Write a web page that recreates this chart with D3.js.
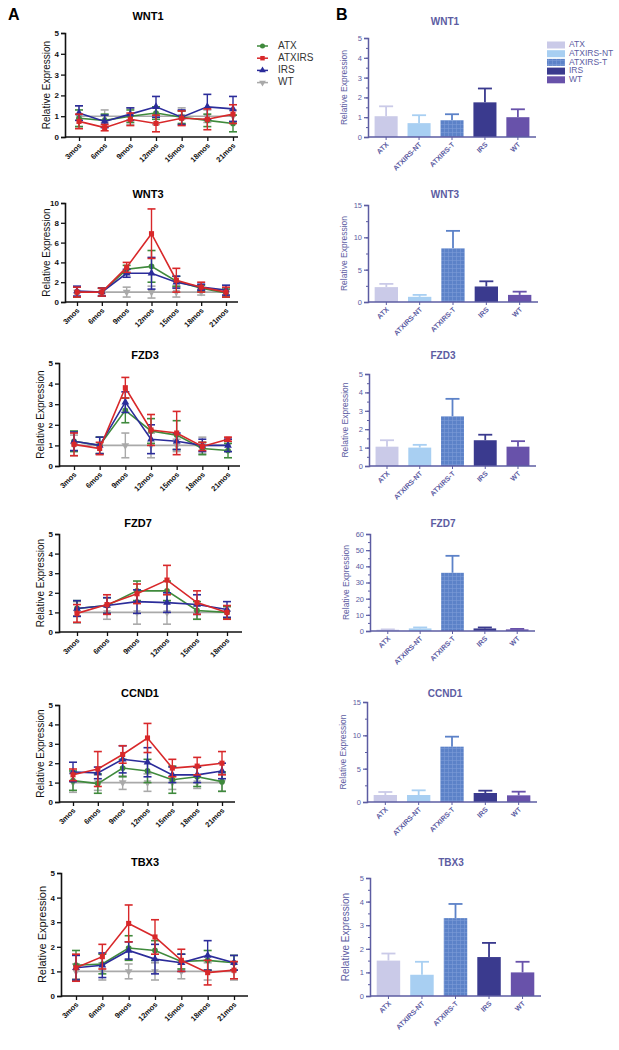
<!DOCTYPE html>
<html><head><meta charset="utf-8">
<script src="https://cdn.jsdelivr.net/npm/d3@7"></script>
<style>body{margin:0;background:#fff}svg{display:block}text{font-family:"Liberation Sans",Arial,sans-serif}</style>
</head><body><svg id="c" width="619" height="1050"></svg>
<script>
// ---------- DATA ----------
const genes = ["WNT1","WNT3","FZD3","FZD7","CCND1","TBX3"];
const seriesNames = ["ATX","ATXIRS","IRS","WT"];
const months7 = ["3mos","6mos","9mos","12mos","15mos","18mos","21mos"];
const months6 = ["3mos","6mos","9mos","12mos","15mos","18mos"];
const yMaxA = [5,10,5,5,5,5];
const yStepA = [1,2,1,1,1,1];

// line means / errors: rows = ATX, ATXIRS, IRS, WT
const lineWNT1 = [[0.9,0.8,1.0,1.15,0.95,0.8,0.65],[0.75,0.45,0.85,0.65,0.9,0.85,1.1],[1.15,0.75,1.1,1.45,0.95,1.45,1.35],[1,1,1,1,1,1,1]];
const errWNT1  = [[0.4,0.3,0.3,0.3,0.3,0.3,0.4],[0.35,0.15,0.3,0.4,0.35,0.5,0.45],[0.35,0.3,0.3,0.5,0.35,0.6,0.6],[0.5,0.3,0.4,0.4,0.4,0.3,0.3]];
const lineWNT3 = [[1.0,1.0,3.3,3.6,2.1,1.4,0.9],[1.0,1.0,3.5,6.9,2.2,1.5,1.0],[1.1,1.0,2.9,2.9,2.0,1.5,1.2],[1,1,1,1,1,1,1]];
const errWNT3  = [[0.5,0.4,0.4,1.6,0.5,0.3,0.4],[0.5,0.4,0.5,2.5,1.2,0.5,0.5],[0.5,0.4,0.4,1.6,0.6,0.3,0.5],[0.5,0.4,0.5,0.6,0.5,0.3,0.4]];
const lineFZD3 = [[1.2,1.0,2.7,1.7,1.5,0.85,0.75],[1.05,0.85,3.8,1.75,1.6,0.95,1.3],[1.2,1.0,3.1,1.3,1.2,1.0,1.0],[1,1,1,1,1,1,1]];
const errFZD3  = [[0.5,0.4,0.6,0.6,0.7,0.3,0.35],[0.55,0.3,0.5,0.75,1.05,0.2,0.1],[0.45,0.4,0.5,0.7,0.4,0.3,0.3],[0.5,0.4,0.6,0.6,0.3,0.4,0.3]];
const lineFZD7 = [[1.2,1.35,2.1,2.1,1.1,1.0],[0.95,1.4,1.95,2.65,1.5,1.0],[1.2,1.35,1.55,1.5,1.4,1.15],[1,1,1,1,1,1]];
const errFZD7  = [[0.4,0.4,0.5,0.5,0.45,0.3],[0.45,0.5,0.5,0.75,0.6,0.35],[0.4,0.4,0.6,0.5,0.5,0.4],[0.55,0.35,0.6,0.6,0.35,0.3]];
const lineCCND1 = [[1.1,0.95,1.75,1.6,1.15,1.3,1.05],[1.4,1.7,2.45,3.3,1.75,1.85,2.0],[1.55,1.5,2.2,2.05,1.4,1.4,1.6],[1,1,1,1,1,1,1]];
const errCCND1  = [[0.5,0.5,0.45,0.6,0.7,0.5,0.5],[0.3,0.9,0.45,0.75,0.45,0.45,0.6],[0.5,0.3,0.7,0.75,0.4,0.4,0.4],[0.5,0.4,0.35,0.45,0.35,0.3,0.45]];
const lineTBX3 = [[1.25,1.3,1.95,1.85,1.4,1.45,1.35],[1.15,1.6,2.95,2.4,1.45,0.95,1.05],[1.15,1.25,1.85,1.5,1.35,1.65,1.35],[1,1,1,1,1,1,1]];
const errTBX3  = [[0.6,0.4,0.5,0.4,0.3,0.4,0.3],[0.55,0.5,0.75,0.7,0.45,0.5,0.35],[0.5,0.5,0.35,0.6,0.35,0.6,0.3],[0.3,0.35,0.3,0.35,0.3,0.35,0.35]];

const barGroups = ["ATX","ATXIRS-NT","ATXIRS-T","IRS","WT"];
const yMaxB = [5,15,5,60,15,5];
const yStepB = [1,5,1,10,5,1];
const barWNT1 = [1.05,0.7,0.85,1.75,1.0],  barErrWNT1 = [0.5,0.4,0.3,0.7,0.4];
const barWNT3 = [2.3,0.8,8.3,2.4,1.1],     barErrWNT3 = [0.5,0.3,2.7,0.8,0.5];
const barFZD3 = [1.05,1.0,2.7,1.4,1.05],   barErrFZD3 = [0.35,0.15,0.95,0.3,0.3];
const barFZD7 = [0.8,1.6,36,1.6,1.0],      barErrFZD7 = [0.2,0.6,10.5,0.6,0.3];
const barCCND1 = [1.05,1.05,8.3,1.35,1.0], barErrCCND1 = [0.45,0.7,1.5,0.35,0.55];
const barTBX3 = [1.5,0.9,3.3,1.65,1.0],    barErrTBX3 = [0.3,0.55,0.6,0.6,0.45];

// ---------- LAYOUT / STYLE ----------
const lineMeans = [lineWNT1,lineWNT3,lineFZD3,lineFZD7,lineCCND1,lineTBX3];
const lineErrs  = [errWNT1,errWNT3,errFZD3,errFZD7,errCCND1,errTBX3];
const lineMonths = [months7,months7,months7,months6,months7,months7];
const barMeans = [barWNT1,barWNT3,barFZD3,barFZD7,barCCND1,barTBX3];
const barErrs  = [barErrWNT1,barErrWNT3,barErrFZD3,barErrFZD7,barErrCCND1,barErrTBX3];

const layA = [
 {x0:65,x1:238,p0:79,p1:233,yT:33,yB:137,tx:148,ty:17},
 {x0:65,x1:238,p0:77,p1:226,yT:203,yB:302,tx:148,ty:195},
 {x0:59,x1:240,p0:74,p1:228,yT:363,yB:466,tx:145,ty:356},
 {x0:59,x1:242,p0:77,p1:227,yT:534,yB:632,tx:138,ty:524},
 {x0:59,x1:235,p0:73,p1:222,yT:705,yB:802,tx:140,ty:694},
 {x0:61,x1:248,p0:76,p1:234,yT:873,yB:996,tx:145,ty:863}
];
const layB = [
 {x0:368,x1:536,yT:38,yB:137,tx:445,ty:22},
 {x0:368,x1:538,yT:205,yB:302,tx:445,ty:195},
 {x0:369,x1:536,yT:374,yB:466,tx:443,ty:356},
 {x0:370,x1:535,yT:534,yB:631,tx:443,ty:524},
 {x0:367,x1:537,yT:702,yB:802,tx:445,ty:694},
 {x0:370,x1:541,yT:878,yB:996,tx:451,ty:863}
];
const seriesColor = {ATX:"#3f8a3c",ATXIRS:"#d8282a",IRS:"#2b2c9a",WT:"#a9a9a9"};
const barColor = {"ATX":"#cacae8","ATXIRS-NT":"#a8cff2","ATXIRS-T":"#5c82c8","IRS":"#3a3a8e","WT":"#6852aa"};
const purple = "#5c5ca2";

const svg = d3.select("#c");
svg.append("rect").attr("width",619).attr("height",1050).attr("fill","#fff");
const defs = svg.append("defs");
const pat = defs.append("pattern").attr("id","grid").attr("width",4).attr("height",4).attr("patternUnits","userSpaceOnUse");
pat.append("rect").attr("width",4).attr("height",4).attr("fill",barColor["ATXIRS-T"]);
pat.append("path").attr("d","M0,0.5H4M0.5,0V4").attr("stroke","#7c9ad6").attr("stroke-width",0.6);

svg.append("text").attr("x",8).attr("y",20).attr("font-size",16).attr("font-weight","bold").text("A");
svg.append("text").attr("x",336).attr("y",20).attr("font-size",16).attr("font-weight","bold").text("B");

const symType = {ATX:d3.symbolCircle,ATXIRS:d3.symbolSquare,IRS:d3.symbolTriangle,WT:d3.symbolTriangle};

// ---------- PANEL A ----------
genes.forEach((g,i)=>{
  const L = layA[i];
  const x = d3.scalePoint().domain(lineMonths[i]).range([L.p0,L.p1]);
  const y = d3.scaleLinear().domain([0,yMaxA[i]]).range([L.yB,L.yT]);
  const G = svg.append("g");
  G.append("text").attr("x",L.tx).attr("y",L.ty).attr("text-anchor","middle").attr("dominant-baseline","middle")
    .attr("font-size",11).attr("font-weight","bold").text(g);
  const ya = G.append("g").attr("transform",`translate(${L.x0},0)`)
    .call(d3.axisLeft(y).tickValues(d3.range(0,yMaxA[i]+0.001,yStepA[i])).tickSize(4).tickPadding(2).tickFormat(d3.format("d")));
  ya.select(".domain").attr("stroke","#111").attr("stroke-width",1.6);
  ya.selectAll(".tick line").attr("stroke","#111").attr("stroke-width",1.3);
  ya.selectAll("text").attr("font-size",8).attr("font-weight","bold").attr("fill","#111");
  G.append("line").attr("x1",L.x0).attr("x2",L.x1).attr("y1",L.yB).attr("y2",L.yB).attr("stroke","#111").attr("stroke-width",1.6);
  const xa = G.append("g").attr("transform",`translate(0,${L.yB})`).call(d3.axisBottom(x).tickSize(4).tickFormat(""));
  xa.select(".domain").remove();
  xa.selectAll(".tick line").attr("stroke","#111").attr("stroke-width",1.3);
  lineMonths[i].forEach(m=>{
    G.append("text").attr("transform",`translate(${x(m)+3},${L.yB+9}) rotate(-45)`).attr("text-anchor","end")
      .attr("font-size",7.5).attr("font-weight","bold").attr("fill","#111").text(m);
  });
  G.append("text").attr("transform",`translate(${L.x0-15},${(L.yT+L.yB)/2}) rotate(-90)`).attr("text-anchor","middle")
    .attr("font-size",i===5?11:10).attr("fill","#111").text("Relative Expression");
  [3,0,2,1].forEach(s=>{
    const name = seriesNames[s], col = seriesColor[name];
    const vals = lineMeans[i][s], errs = lineErrs[i][s];
    const pts = lineMonths[i].map((m,k)=>({m,v:vals[k],e:errs[k]}));
    const sg = G.append("g");
    pts.forEach(p=>{
      const cx = x(p.m);
      sg.append("line").attr("x1",cx).attr("x2",cx).attr("y1",y(p.v-p.e)).attr("y2",y(p.v+p.e)).attr("stroke",col).attr("stroke-width",1.4);
      [p.v-p.e,p.v+p.e].forEach(t=>sg.append("line").attr("x1",cx-4).attr("x2",cx+4).attr("y1",y(t)).attr("y2",y(t)).attr("stroke",col).attr("stroke-width",1.6));
    });
    sg.append("path").datum(pts).attr("fill","none").attr("stroke",col).attr("stroke-width",1.6)
      .attr("d",d3.line().x(p=>x(p.m)).y(p=>y(p.v)));
    sg.selectAll("path.sym").data(pts).join("path").attr("class","sym")
      .attr("transform",p=>`translate(${x(p.m)},${y(p.v)})${name==="WT"?" rotate(180)":""}`)
      .attr("d",d3.symbol().type(symType[name]).size(26)).attr("fill",col);
  });
});
seriesNames.forEach((n,k)=>{
  const yy = 46 + k*12.2, col = seriesColor[n];
  svg.append("line").attr("x1",257).attr("x2",268).attr("y1",yy).attr("y2",yy).attr("stroke",col).attr("stroke-width",1.5);
  svg.append("path").attr("transform",`translate(262.5,${yy})${n==="WT"?" rotate(180)":""}`)
    .attr("d",d3.symbol().type(symType[n]).size(20)).attr("fill",col);
  svg.append("text").attr("x",278).attr("y",yy).attr("dominant-baseline","middle").attr("font-size",10).attr("fill","#333").text(n);
});

// ---------- PANEL B ----------
genes.forEach((g,i)=>{
  const L = layB[i];
  const x = d3.scaleBand().domain(barGroups).range([L.x0,L.x1]).paddingInner(0.3).paddingOuter(0.2);
  const y = d3.scaleLinear().domain([0,yMaxB[i]]).range([L.yB,L.yT]);
  const G = svg.append("g");
  G.append("text").attr("x",L.tx).attr("y",L.ty).attr("text-anchor","middle").attr("dominant-baseline","middle")
    .attr("font-size",10).attr("font-weight","bold").attr("fill",purple).text(g);
  barGroups.forEach((b,k)=>{
    const v = barMeans[i][k], e = barErrs[i][k], col = barColor[b];
    const cx = x(b)+x.bandwidth()/2;
    G.append("line").attr("x1",cx).attr("x2",cx).attr("y1",y(v)).attr("y2",y(v+e)).attr("stroke",col).attr("stroke-width",1.8);
    G.append("line").attr("x1",cx-7).attr("x2",cx+7).attr("y1",y(v+e)).attr("y2",y(v+e)).attr("stroke",col).attr("stroke-width",1.8);
    G.append("rect").attr("x",x(b)).attr("width",x.bandwidth()).attr("y",y(v)).attr("height",L.yB-y(v))
      .attr("fill",b==="ATXIRS-T"?"url(#grid)":col);
  });
  const minor = d3.range(0,yMaxB[i]+0.001,yStepB[i]/2);
  const ym = G.append("g").attr("transform",`translate(${L.x0},0)`).call(d3.axisLeft(y).tickValues(minor).tickSize(2).tickFormat(""));
  ym.select(".domain").remove();
  ym.selectAll(".tick line").attr("stroke",purple);
  const ya = G.append("g").attr("transform",`translate(${L.x0},0)`)
    .call(d3.axisLeft(y).tickValues(d3.range(0,yMaxB[i]+0.001,yStepB[i])).tickSize(4).tickPadding(2).tickFormat(d3.format("d")));
  ya.select(".domain").attr("stroke",purple).attr("stroke-width",1.5);
  ya.selectAll(".tick line").attr("stroke",purple).attr("stroke-width",1.2);
  ya.selectAll("text").attr("font-size",7.5).attr("fill",purple);
  G.append("line").attr("x1",L.x0).attr("x2",L.x1).attr("y1",L.yB).attr("y2",L.yB).attr("stroke",purple).attr("stroke-width",1.5);
  const xa = G.append("g").attr("transform",`translate(0,${L.yB})`).call(d3.axisBottom(x).tickSize(3).tickFormat(""));
  xa.select(".domain").remove();
  xa.selectAll(".tick line").attr("stroke",purple);
  barGroups.forEach(b=>{
    G.append("text").attr("transform",`translate(${x(b)+x.bandwidth()/2+3},${L.yB+8}) rotate(-45)`).attr("text-anchor","end")
      .attr("font-size",7).attr("font-weight","bold").attr("fill",purple).text(b);
  });
  G.append("text").attr("transform",`translate(${L.x0-21},${(L.yT+L.yB)/2}) rotate(-90)`).attr("text-anchor","middle")
    .attr("font-size",i===5?10:8.5).attr("fill",purple).text("Relative Expression");
});
barGroups.forEach((b,k)=>{
  const yy = 45 + k*8.7;
  svg.append("rect").attr("x",547).attr("y",yy-3.5).attr("width",18).attr("height",7).attr("fill",b==="ATXIRS-T"?"url(#grid)":barColor[b]);
  svg.append("text").attr("x",569).attr("y",yy).attr("dominant-baseline","middle").attr("font-size",8.5).attr("fill",purple).text(b);
});
</script></body></html>
